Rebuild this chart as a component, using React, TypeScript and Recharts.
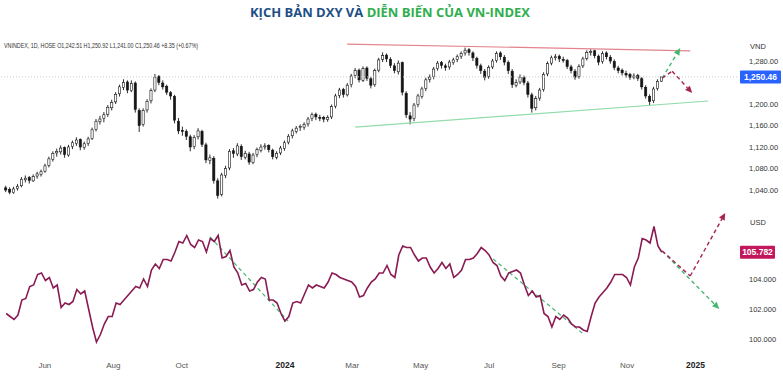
import React from "react";
import { Bar, ComposedChart, Line, ReferenceLine, XAxis, YAxis } from "recharts";

// one candle / point every 3.5 calendar days, days counted from 2023-01-01
const START_DAY = 116.5;
const STEP_DAYS = 3.5;
const X_DOMAIN: [number, number] = [111, 768];

// VN-INDEX candles [open, high, low, close]
const vnCandles: number[][] = [
    [1044, 1048, 1036, 1040], [1041, 1045, 1032, 1036], [1035, 1046, 1033, 1042], [1043, 1051, 1039, 1047],
    [1048, 1064, 1045, 1060], [1059, 1067, 1054, 1062], [1063, 1066, 1052, 1058], [1057, 1069, 1055, 1065],
    [1066, 1074, 1061, 1070], [1069, 1078, 1065, 1074], [1075, 1089, 1072, 1085], [1086, 1102, 1082, 1098],
    [1097, 1112, 1093, 1108], [1109, 1117, 1102, 1112], [1111, 1123, 1106, 1118], [1119, 1121, 1100, 1106],
    [1105, 1124, 1102, 1120], [1121, 1132, 1116, 1128], [1127, 1138, 1122, 1133], [1134, 1136, 1114, 1120],
    [1119, 1130, 1115, 1126], [1127, 1139, 1122, 1135], [1136, 1156, 1133, 1152], [1153, 1172, 1149, 1168],
    [1167, 1178, 1162, 1172], [1173, 1185, 1166, 1180], [1181, 1198, 1176, 1194], [1193, 1208, 1188, 1203],
    [1204, 1222, 1200, 1218], [1219, 1236, 1214, 1232], [1231, 1246, 1226, 1240], [1241, 1244, 1220, 1226],
    [1225, 1244, 1222, 1238], [1239, 1242, 1184, 1190], [1188, 1192, 1148, 1160], [1162, 1192, 1158, 1188],
    [1189, 1209, 1184, 1205], [1206, 1229, 1201, 1225], [1226, 1256, 1222, 1250], [1251, 1254, 1235, 1240],
    [1239, 1244, 1227, 1232], [1233, 1236, 1217, 1222], [1221, 1224, 1208, 1215], [1214, 1217, 1164, 1170],
    [1168, 1174, 1144, 1150], [1151, 1158, 1141, 1150], [1149, 1153, 1133, 1140], [1139, 1143, 1112, 1120],
    [1121, 1142, 1116, 1138], [1139, 1155, 1134, 1150], [1149, 1152, 1120, 1125], [1124, 1128, 1090, 1096],
    [1095, 1106, 1088, 1100], [1099, 1103, 1052, 1058], [1057, 1062, 1024, 1030], [1032, 1072, 1028, 1068],
    [1067, 1085, 1062, 1080], [1081, 1116, 1077, 1112], [1113, 1118, 1100, 1108], [1107, 1127, 1103, 1122],
    [1121, 1125, 1096, 1102], [1101, 1113, 1097, 1108], [1107, 1111, 1087, 1092], [1091, 1109, 1088, 1105],
    [1106, 1119, 1101, 1115], [1114, 1125, 1110, 1120], [1121, 1127, 1115, 1122], [1123, 1125, 1110, 1115],
    [1114, 1117, 1097, 1102], [1101, 1112, 1097, 1108], [1109, 1122, 1105, 1118], [1117, 1132, 1113, 1128],
    [1129, 1144, 1125, 1140], [1141, 1154, 1136, 1150], [1149, 1159, 1145, 1155], [1156, 1162, 1150, 1158],
    [1157, 1166, 1152, 1162], [1163, 1176, 1158, 1172], [1173, 1184, 1168, 1180], [1181, 1184, 1170, 1176],
    [1175, 1180, 1168, 1174], [1175, 1178, 1166, 1172], [1171, 1179, 1167, 1175], [1176, 1199, 1172, 1195],
    [1196, 1219, 1192, 1215], [1216, 1230, 1211, 1226], [1227, 1230, 1212, 1218], [1217, 1239, 1214, 1235],
    [1236, 1256, 1231, 1252], [1253, 1267, 1248, 1262], [1263, 1266, 1240, 1245], [1244, 1270, 1241, 1266],
    [1267, 1270, 1243, 1248], [1247, 1251, 1229, 1235], [1236, 1266, 1232, 1262], [1263, 1286, 1259, 1282],
    [1283, 1296, 1278, 1290], [1291, 1294, 1278, 1284], [1283, 1287, 1267, 1272], [1271, 1276, 1257, 1262],
    [1260, 1281, 1255, 1276], [1277, 1279, 1216, 1222], [1220, 1224, 1174, 1180], [1178, 1185, 1162, 1172],
    [1173, 1202, 1168, 1198], [1199, 1219, 1194, 1215], [1214, 1232, 1210, 1228], [1229, 1249, 1224, 1245],
    [1246, 1255, 1240, 1250], [1251, 1269, 1246, 1265], [1266, 1280, 1262, 1276], [1277, 1280, 1266, 1272],
    [1271, 1275, 1262, 1268], [1269, 1282, 1264, 1278], [1277, 1286, 1273, 1282], [1283, 1292, 1278, 1288],
    [1289, 1298, 1284, 1294], [1295, 1305, 1290, 1300], [1301, 1304, 1290, 1296], [1295, 1298, 1280, 1286],
    [1285, 1288, 1266, 1272], [1271, 1275, 1256, 1262], [1261, 1265, 1244, 1250], [1251, 1272, 1247, 1268],
    [1269, 1284, 1265, 1280], [1281, 1298, 1277, 1294], [1295, 1298, 1282, 1288], [1287, 1291, 1272, 1278],
    [1277, 1281, 1256, 1262], [1261, 1265, 1230, 1236], [1235, 1246, 1231, 1240], [1241, 1255, 1237, 1250],
    [1249, 1253, 1235, 1240], [1239, 1243, 1212, 1218], [1217, 1221, 1184, 1192], [1193, 1215, 1188, 1210],
    [1211, 1230, 1206, 1226], [1227, 1259, 1223, 1255], [1256, 1279, 1252, 1275], [1276, 1290, 1272, 1286],
    [1287, 1293, 1281, 1288], [1289, 1292, 1278, 1284], [1283, 1288, 1277, 1282], [1281, 1284, 1265, 1270],
    [1269, 1273, 1257, 1262], [1261, 1265, 1245, 1250], [1251, 1274, 1247, 1270], [1271, 1288, 1267, 1284],
    [1285, 1300, 1281, 1296], [1297, 1302, 1290, 1298], [1299, 1301, 1285, 1290], [1289, 1292, 1272, 1278],
    [1279, 1298, 1275, 1294], [1295, 1298, 1283, 1288], [1287, 1291, 1275, 1280], [1279, 1283, 1263, 1268],
    [1267, 1271, 1257, 1262], [1263, 1266, 1253, 1258], [1257, 1262, 1249, 1254], [1255, 1258, 1245, 1250],
    [1249, 1257, 1246, 1252], [1253, 1256, 1243, 1248], [1247, 1250, 1227, 1232], [1231, 1235, 1210, 1215],
    [1214, 1218, 1198, 1205], [1206, 1232, 1202, 1228], [1229, 1246, 1225, 1242], [1242.51, 1250.92, 1241.0, 1250.46],
];

// DXY closes on the same dates
const dxyClose: number[] = [
    101.7, 101.5, 101.3, 101.6, 102.6, 102.7, 103.5, 103.6, 104.3, 104.4, 103.9, 104.1,
    103.4, 103.6, 102.1, 102.4, 102.3, 102.5, 103.3, 103.0, 103.2, 102.0, 100.8, 99.8,
    100.3, 101.0, 101.5, 101.5, 102.4, 102.3, 102.6, 102.9, 103.2, 103.5, 103.4, 104.0,
    103.5, 104.6, 105.0, 104.7, 105.3, 105.3, 105.2, 105.8, 106.5, 106.4, 106.9, 106.3,
    106.1, 106.6, 106.5, 105.8, 106.7, 106.5, 106.9, 105.4, 105.5, 105.9, 104.8, 104.4,
    103.6, 103.7, 103.2, 103.3, 103.8, 104.1, 104.0, 102.6, 102.6, 102.4, 101.7, 101.2,
    101.5, 102.4, 102.5, 102.4, 103.0, 103.6, 103.4, 103.6, 103.5, 103.4, 103.8, 104.4,
    104.3, 104.1, 104.0, 103.9, 103.8, 103.5, 102.8, 102.9, 103.4, 103.8, 104.0, 104.4,
    104.4, 104.9, 104.3, 104.1, 105.6, 106.2, 106.1, 106.1, 105.6, 105.2, 105.4, 105.4,
    104.8, 104.4, 104.7, 105.1, 104.7, 105.0, 104.1, 104.3, 104.6, 105.3, 105.3, 105.4,
    105.7, 106.1, 105.9, 105.6, 105.1, 104.9, 104.2, 103.9, 104.4, 104.5, 104.6, 104.4,
    103.6, 102.9, 103.2, 102.8, 102.9, 101.7, 101.5, 100.8, 101.5, 101.3, 101.6, 101.4,
    101.0, 100.8, 100.8, 100.6, 100.5, 101.5, 102.4, 102.8, 103.1, 103.4, 103.8, 104.3,
    104.3, 104.3, 104.1, 103.6, 104.8, 105.4, 106.7, 106.6, 106.4, 107.5, 106.2, 105.782,
];

// ticks hidden under the last-price badges are left out
const vnTicks = [1040, 1080, 1120, 1160, 1200, 1280];
const dxyTicks = [100, 102, 104];
const xTickDays = [151, 212, 273, 365, 425, 486, 547, 609, 670, 731];
const xTickLabels = ["Jun", "Aug", "Oct", "2024", "Mar", "May", "Jul", "Sep", "Nov", "2025"];

// drawn annotations: [day, value]
const resistance = [[420.4, 1311.6], [726.3, 1299]];
const support = [[427.6, 1157], [742.3, 1205.6]];
const vnUpArrow = [[701.3, 1248], [717.4, 1304]];
const vnDownArrow = [[701.3, 1248], [710.2, 1261], [728.1, 1220.5]];
const dxyTrend1 = [[298.3, 106.8], [367.8, 101.2]];
const dxyTrend2 = [[550.6, 105.33], [630.0, 100.4]];
const dxyDownArrow = [[701.3, 105.87], [752.2, 102.0]];
const dxyUpArrow = [[701.3, 105.87], [726.3, 104.2], [757.5, 108.4]];

const rows = vnCandles.map((c, i) => ({
    day: START_DAY + i * STEP_DAYS,
    o: c[0],
    h: c[1],
    l: c[2],
    c: c[3],
    dxy: dxyClose[i],
}));

const FONT = "'Liberation Sans', Arial, sans-serif";
const GREEN = "#45b86f";
const RED = "#a52454";

const fmtVn = (v: number) => v.toLocaleString("en-US", { minimumFractionDigits: 2, maximumFractionDigits: 2 });

function Candle(props: any) {
    const { x, y, width, height, payload } = props;
    const { o, h, l, c } = payload;
    const k = height / (h - l || 1);
    const cx = x + width / 2;
    const top = y + (h - Math.max(o, c)) * k;
    const bh = Math.max(1, Math.abs(o - c) * k);
    return (
        <g>
            <line x1={cx} x2={cx} y1={y} y2={y + height} stroke="#151515" strokeWidth={0.9} />
            <rect x={cx - 1.1} y={top} width={2.2} height={bh} fill={c >= o ? "#ffffff" : "#151515"} stroke="#151515" strokeWidth={0.6} />
        </g>
    );
}

const arrowShape = (color: string) => (p: any) => {
    const { x1, y1, x2, y2 } = p;
    const a = Math.atan2(y2 - y1, x2 - x1);
    const bx = x2 - 7 * Math.cos(a);
    const by = y2 - 7 * Math.sin(a);
    const s = Math.sin(a) * 3.2;
    const co = Math.cos(a) * 3.2;
    return (
        <g>
            <line x1={x1} y1={y1} x2={bx} y2={by} stroke={color} strokeWidth={1.4} strokeDasharray="4 3" />
            <polygon points={`${x2},${y2} ${bx + s},${by - co} ${bx - s},${by + co}`} fill={color} />
        </g>
    );
};

const badge = (text: string, color: string, w: number) => (p: any) => {
    const vb = p.viewBox;
    const bx = vb.x + vb.width + 3;
    return (
        <g>
            <rect x={bx} y={vb.y - 6.5} width={w} height={13} fill={color} rx={1} />
            <text x={bx + w / 2} y={vb.y + 3} textAnchor="middle" fill="#fff" fontSize={8.5} fontWeight={700} fontFamily={FONT}>
                {text}
            </text>
        </g>
    );
};

function XTick(props: any) {
    const { x, y, payload } = props;
    const i = xTickDays.indexOf(payload.value);
    const label = xTickLabels[i];
    const year = /^\d{4}$/.test(label);
    return (
        <text x={x} y={y + 10} textAnchor="middle" fontSize={year ? 8.5 : 8} fontWeight={year ? 700 : 400} fill={year ? "#222" : "#555"} fontFamily={FONT}>
            {label}
        </text>
    );
}

const seg = (pts: number[][], a: number, b: number) => [
    { x: pts[a][0], y: pts[a][1] },
    { x: pts[b][0], y: pts[b][1] },
];

export default function App() {
    const last = vnCandles[vnCandles.length - 1][3];
    const lastDxy = dxyClose[dxyClose.length - 1];
    return (
        <div style={{ position: "relative", width: 783, height: 381, background: "#fff", overflow: "hidden" }}>
            <style>{"body{margin:0}"}</style>

            <div style={{ position: "absolute", left: 0, top: 30 }}>
                <ComposedChart width={783} height={175} data={rows} margin={{ top: 0, right: 0, bottom: 0, left: 0 }}>
                    <XAxis dataKey="day" type="number" domain={X_DOMAIN} allowDataOverflow hide />
                    <YAxis
                        orientation="right"
                        width={46}
                        domain={[1012.1, 1337.7]}
                        allowDataOverflow
                        ticks={vnTicks}
                        tickFormatter={fmtVn}
                        axisLine={false}
                        tickLine={false}
                        tickMargin={6}
                        tick={{ fontSize: 7.5, fill: "#333", fontFamily: FONT, textAnchor: "start" }}
                    />
                    <ReferenceLine y={last} stroke="#c9c9c9" strokeDasharray="1 2" label={badge(fmtVn(last), "#2962ff", 41)} />
                    <ReferenceLine segment={seg(resistance, 0, 1)} stroke="#e2838e" strokeWidth={1.2} />
                    <ReferenceLine segment={seg(support, 0, 1)} stroke="#92dcab" strokeWidth={1.2} />
                    <Bar dataKey={(d: any) => [d.l, d.h]} barSize={3} shape={Candle} isAnimationActive={false} />
                    <ReferenceLine segment={seg(vnUpArrow, 0, 1)} shape={arrowShape(GREEN)} />
                    <ReferenceLine segment={seg(vnDownArrow, 0, 1)} stroke={RED} strokeWidth={1.4} strokeDasharray="4 3" />
                    <ReferenceLine segment={seg(vnDownArrow, 1, 2)} shape={arrowShape(RED)} />
                </ComposedChart>
            </div>

            <div style={{ position: "absolute", left: 0, top: 210 }}>
                <ComposedChart width={783} height={171} data={rows} margin={{ top: 0, right: 0, bottom: 0, left: 0 }}>
                    <XAxis
                        dataKey="day"
                        type="number"
                        domain={X_DOMAIN}
                        allowDataOverflow
                        ticks={xTickDays}
                        axisLine={false}
                        tickLine={false}
                        height={31}
                        tick={<XTick />}
                    />
                    <YAxis
                        orientation="right"
                        width={46}
                        domain={[99.267, 108.6]}
                        allowDataOverflow
                        ticks={dxyTicks}
                        tickFormatter={(v: number) => v.toFixed(3)}
                        axisLine={false}
                        tickLine={false}
                        tickMargin={6}
                        tick={{ fontSize: 7.5, fill: "#333", fontFamily: FONT, textAnchor: "start" }}
                    />
                    <ReferenceLine y={lastDxy} stroke="none" label={badge(lastDxy.toFixed(3), "#c2185b", 35)} />
                    <ReferenceLine segment={seg(dxyTrend1, 0, 1)} stroke={GREEN} strokeWidth={1.2} strokeDasharray="4 3" />
                    <ReferenceLine segment={seg(dxyTrend2, 0, 1)} stroke={GREEN} strokeWidth={1.2} strokeDasharray="4 3" />
                    <Line dataKey="dxy" type="linear" stroke="#8a1b52" strokeWidth={1.6} dot={false} isAnimationActive={false} />
                    <ReferenceLine segment={seg(dxyDownArrow, 0, 1)} shape={arrowShape(GREEN)} />
                    <ReferenceLine segment={seg(dxyUpArrow, 0, 1)} stroke={RED} strokeWidth={1.4} strokeDasharray="4 3" />
                    <ReferenceLine segment={seg(dxyUpArrow, 1, 2)} shape={arrowShape(RED)} />
                </ComposedChart>
            </div>

            <svg width={783} height={381} style={{ position: "absolute", left: 0, top: 0, pointerEvents: "none" }}>
                <text x={250} y={17} textLength={280} lengthAdjust="spacingAndGlyphs" fontSize={12} fontWeight={700} fontFamily="'Open Sans', sans-serif">
                    <tspan fill="#1d4f86">KỊCH BẢN DXY VÀ </tspan>
                    <tspan fill="#2fae4e">DIỄN BIẾN CỦA VN-INDEX</tspan>
                </text>
                <text x={4} y={48} textLength={194} lengthAdjust="spacingAndGlyphs" fontSize={8} fill="#333" fontFamily={FONT}>
                    VNINDEX, 1D, HOSE  O1,242.51  H1,250.92  L1,241.00  C1,250.46  +8.35 (+0.67%)
                </text>
                <text x={750} y={49} fontSize={7.5} fill="#333" fontFamily={FONT}>VND</text>
                <text x={750} y={225} fontSize={7.5} fill="#333" fontFamily={FONT}>USD</text>
            </svg>
        </div>
    );
}
